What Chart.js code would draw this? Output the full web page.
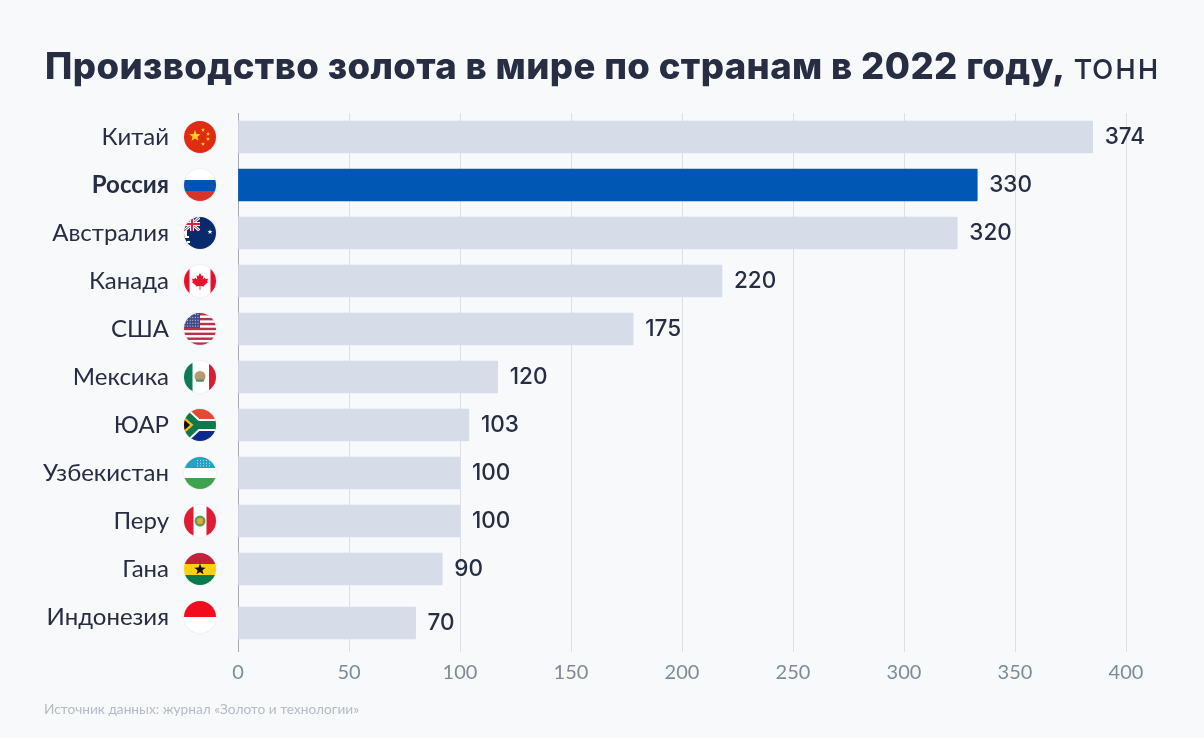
<!DOCTYPE html>
<html lang="ru">
<head>
<meta charset="utf-8">
<title>Производство золота в мире по странам в 2022 году</title>
<script src="https://cdn.jsdelivr.net/npm/chart.js@4"></script>
<style>
    html, body { margin: 0; padding: 0; background: #f8f9fb; }
    body { position: relative; width: 1204px; height: 738px; overflow: hidden; font-family: Lato, "Noto Sans", sans-serif; color: #272d43; }
    #barChart { position: absolute; left: 0; top: 0; }
    h1 { position: absolute; left: 45px; top: 42px; margin: 0; font-family: Inter, Lato, sans-serif; font-size: 36.5px; line-height: 48px; font-weight: 800; letter-spacing: 0.4px; white-space: nowrap; }
    h1 span { font-weight: 400; letter-spacing: 1px; margin-left: 2px; }
    #source { position: absolute; left: 44px; top: 700px; font-size: 13.7px; line-height: 17px; color: #b4bbc4; }
</style>
</head>
<body>
<canvas id="barChart" width="1204" height="738"></canvas>
<h1>Производство золота в мире по странам в 2022 году, <span>тонн</span></h1>
<div id="source">Источник данных: журнал «Золото и технологии»</div>
<script>
var fontName = 'Lato, "Noto Sans", sans-serif';

var countries = ['Китай', 'Россия', 'Австралия', 'Канада', 'США', 'Мексика', 'ЮАР', 'Узбекистан', 'Перу', 'Гана', 'Индонезия'];
// the printed numbers and the drawn bar lengths differ in the original
var valueLabels = [374, 330, 320, 220, 175, 120, 103, 100, 100, 90, 70];
var barLengths = [385, 333, 324, 218, 178, 117, 104, 100, 100, 92, 80];
var xTicks = [0, 50, 100, 150, 200, 250, 300, 350, 400];
var flagNames = ['china', 'russia', 'australia', 'canada', 'usa', 'mexico', 'sar', 'uzbekistan', 'peru', 'ghana', 'indonesia'];
var highlighted = 'Россия';

function star(c, x, y, r, color) {
    c.fillStyle = color;
    c.beginPath();
    for (var i = 0; i < 10; i++) {
        var a = -Math.PI / 2 + i * Math.PI / 5;
        var rr = i % 2 ? r * 0.42 : r;
        c.lineTo(x + Math.cos(a) * rr, y + Math.sin(a) * rr);
    }
    c.closePath();
    c.fill();
}

function box(c, color, x, y, w, h) {
    c.fillStyle = color;
    c.fillRect(x, y, w, h);
}

// half of a maple leaf, mirrored when drawn
var leafHalf = [[0, -8], [1.8, -4.8], [3.5, -5.8], [2.8, -1.5], [5, -3.5], [5.6, -2], [8, -2.3], [7.2, 0.5], [8, 1.2], [4, 4.4], [4.4, 5.6], [0.4, 5], [0.4, 9]];

// flags are drawn around 0,0 inside a circle of radius 16
var flags = {
    china: function (c) {
        box(c, '#de2c12', -16, -16, 32, 32);
        star(c, -5, -1, 6, '#ffd21e');
        star(c, 3, -7, 2.2, '#ffd21e');
        star(c, 8, -3, 2.2, '#ffd21e');
        star(c, 8, 2, 2.2, '#ffd21e');
        star(c, 3, 7, 2.2, '#ffd21e');
    },
    russia: function (c) {
        box(c, '#ffffff', -16, -16, 32, 11);
        box(c, '#0052b4', -16, -5, 32, 11);
        box(c, '#d8352a', -16, 6, 32, 10);
    },
    australia: function (c) {
        box(c, '#0a2a6e', -16, -16, 32, 32);
        c.save();
        c.beginPath();
        c.rect(-16, -16, 16, 14);
        c.clip();
        c.lineWidth = 3;
        c.strokeStyle = '#ffffff';
        c.beginPath();
        c.moveTo(-16, -16); c.lineTo(0, -2);
        c.moveTo(0, -16); c.lineTo(-16, -2);
        c.stroke();
        c.lineWidth = 1;
        c.strokeStyle = '#d8233c';
        c.stroke();
        box(c, '#ffffff', -16, -11, 16, 4);
        box(c, '#ffffff', -10, -16, 4, 14);
        box(c, '#d8233c', -16, -10, 16, 2);
        box(c, '#d8233c', -9, -16, 2, 14);
        c.restore();
        box(c, '#ffffff', -16, -2, 3, 5);
        box(c, '#ffffff', -16, 3, 5, 2);
        box(c, '#ffffff', -13, 8, 3, 2);
        star(c, 10, -1, 2.6, '#ffffff');
    },
    canada: function (c) {
        box(c, '#ffffff', -16, -16, 32, 32);
        box(c, '#e8112d', -16, -16, 5.5, 32);
        box(c, '#e8112d', 10.5, -16, 5.5, 32);
        c.fillStyle = '#e8112d';
        c.beginPath();
        leafHalf.forEach(function (p) { c.lineTo(p[0], p[1]); });
        leafHalf.slice().reverse().forEach(function (p) { c.lineTo(-p[0], p[1]); });
        c.closePath();
        c.fill();
    },
    usa: function (c) {
        box(c, '#ffffff', -16, -16, 32, 32);
        for (var i = 0; i < 7; i++) {
            box(c, '#b8324a', -16, -16 + i * 4.9, 32, 2.45);
        }
        box(c, '#3f4b86', -16, -16, 16, 15);
        for (var row = 0; row < 5; row++) {
            for (var col = 0; col < 6; col++) {
                box(c, '#d5d8e6', -15.5 + col * 2.6, -15 + row * 2.9, 1, 1);
            }
        }
    },
    mexico: function (c) {
        box(c, '#ffffff', -16, -16, 32, 32);
        box(c, '#0b7a55', -16, -16, 8.5, 32);
        box(c, '#d81e34', 9, -16, 7, 32);
        c.fillStyle = '#b39a73';
        c.beginPath();
        c.arc(0, -0.5, 5.5, 0, Math.PI * 2);
        c.fill();
        box(c, '#4f8f6e', -4, 2.5, 8, 2);
    },
    sar: function (c) {
        box(c, '#e24a33', -16, -16, 32, 16);
        box(c, '#0a2a8c', -16, 0, 32, 16);
        c.lineJoin = 'miter';
        c.strokeStyle = '#ffffff';
        c.lineWidth = 12;
        c.beginPath();
        c.moveTo(-18, -14); c.lineTo(-3, 0); c.lineTo(16, 0);
        c.moveTo(-18, 14); c.lineTo(-3, 0);
        c.stroke();
        c.strokeStyle = '#0a7a4a';
        c.lineWidth = 8;
        c.stroke();
        c.fillStyle = '#f7b81e';
        c.beginPath();
        c.moveTo(-16, -8.5); c.lineTo(-6.5, 0); c.lineTo(-16, 8.5);
        c.closePath();
        c.fill();
        c.fillStyle = '#111111';
        c.beginPath();
        c.moveTo(-16, -5.5); c.lineTo(-10, 0); c.lineTo(-16, 5.5);
        c.closePath();
        c.fill();
    },
    uzbekistan: function (c) {
        box(c, '#ffffff', -16, -16, 32, 32);
        box(c, '#2a9fc4', -16, -16, 32, 11);
        box(c, '#3fa34d', -16, 5, 32, 11);
        for (var row = 0; row < 3; row++) {
            for (var col = 0; col < 5; col++) {
                box(c, '#bfe3ee', -3 + col * 3, -13 + row * 2.7, 1, 1);
            }
        }
    },
    peru: function (c) {
        box(c, '#ffffff', -16, -16, 32, 32);
        box(c, '#df1b38', -16, -16, 9.5, 32);
        box(c, '#df1b38', 6.5, -16, 9.5, 32);
        c.fillStyle = '#5f9d4e';
        c.beginPath();
        c.arc(0, 0, 5.5, 0, Math.PI * 2);
        c.fill();
        box(c, '#e0a93a', -2.8, -2.8, 5.6, 5.6);
    },
    ghana: function (c) {
        box(c, '#c4203a', -16, -16, 32, 11);
        box(c, '#fbd116', -16, -5, 32, 11);
        box(c, '#0b7a4b', -16, 6, 32, 10);
        star(c, 0, 0.5, 6, '#111111');
    },
    indonesia: function (c) {
        box(c, '#ffffff', -16, -16, 32, 32);
        box(c, '#f20d1e', -16, -16, 32, 16);
    }
};

// last bar sits a bit lower than its label in the original
var shiftLastBar = {
    id: 'shiftLastBar',
    afterDatasetsUpdate: function (chart) {
        var bars = chart.getDatasetMeta(0).data;
        bars[bars.length - 1].y += 6;
    }
};

var valueTextPlugin = {
    id: 'valueText',
    afterDatasetsDraw: function (chart) {
        var c = chart.ctx;
        c.save();
        c.font = '500 22.5px Inter, ' + fontName;
        c.fillStyle = '#272d43';
        c.textAlign = 'left';
        c.textBaseline = 'middle';
        chart.getDatasetMeta(0).data.forEach(function (bar, i) {
            c.fillText(valueLabels[i], bar.x + 12, bar.y);
        });
        c.restore();
    }
};

var flagPlugin = {
    id: 'flags',
    afterDraw: function (chart) {
        var c = chart.ctx;
        var yScale = chart.scales.y;
        flagNames.forEach(function (name, i) {
            c.save();
            c.translate(200, yScale.getPixelForTick(i));
            c.fillStyle = '#eceef2';
            c.beginPath();
            c.arc(0, 0, 16.8, 0, Math.PI * 2);
            c.fill();
            c.beginPath();
            c.arc(0, 0, 16, 0, Math.PI * 2);
            c.clip();
            flags[name](c);
            c.restore();
        });
    }
};

var ctx = document.getElementById('barChart').getContext('2d');
var barChart = new Chart(ctx, {
    type: 'bar',
    data: {
        labels: countries,
        datasets: [{
            data: barLengths,
            backgroundColor: countries.map(function (name) {
                return name === highlighted ? '#0057b4' : '#d6dce8';
            }),
            borderRadius: 1,
            barThickness: 32
        }]
    },
    plugins: [shiftLastBar, valueTextPlugin, flagPlugin],
    options: {
        indexAxis: 'y',
        responsive: false,
        animation: false,
        layout: { padding: { top: 113, right: 78 } },
        plugins: {
            legend: { display: false },
            tooltip: { enabled: false }
        },
        scales: {
            x: {
                min: 0,
                max: 400,
                afterBuildTicks: function (axis) {
                    axis.ticks = xTicks.map(function (v) { return { value: v }; });
                },
                afterFit: function (axis) { axis.height = 97; },
                border: { display: false },
                grid: {
                    tickLength: 11,
                    color: function (c) { return c.index === 0 ? '#a3a7ae' : '#dcdfe5'; }
                },
                ticks: {
                    maxRotation: 0,
                    padding: 9,
                    color: '#7f8b99',
                    font: { family: fontName, size: 20 }
                }
            },
            y: {
                afterFit: function (axis) { axis.width = 238; },
                border: { display: false },
                grid: { display: false, drawTicks: false },
                ticks: {
                    padding: 69,
                    color: '#272d43',
                    font: function (c) {
                        return {
                            family: fontName,
                            size: 24,
                            weight: countries[c.index] === highlighted ? '700' : '400'
                        };
                    }
                }
            }
        }
    }
});
</script>
</body>
</html>
